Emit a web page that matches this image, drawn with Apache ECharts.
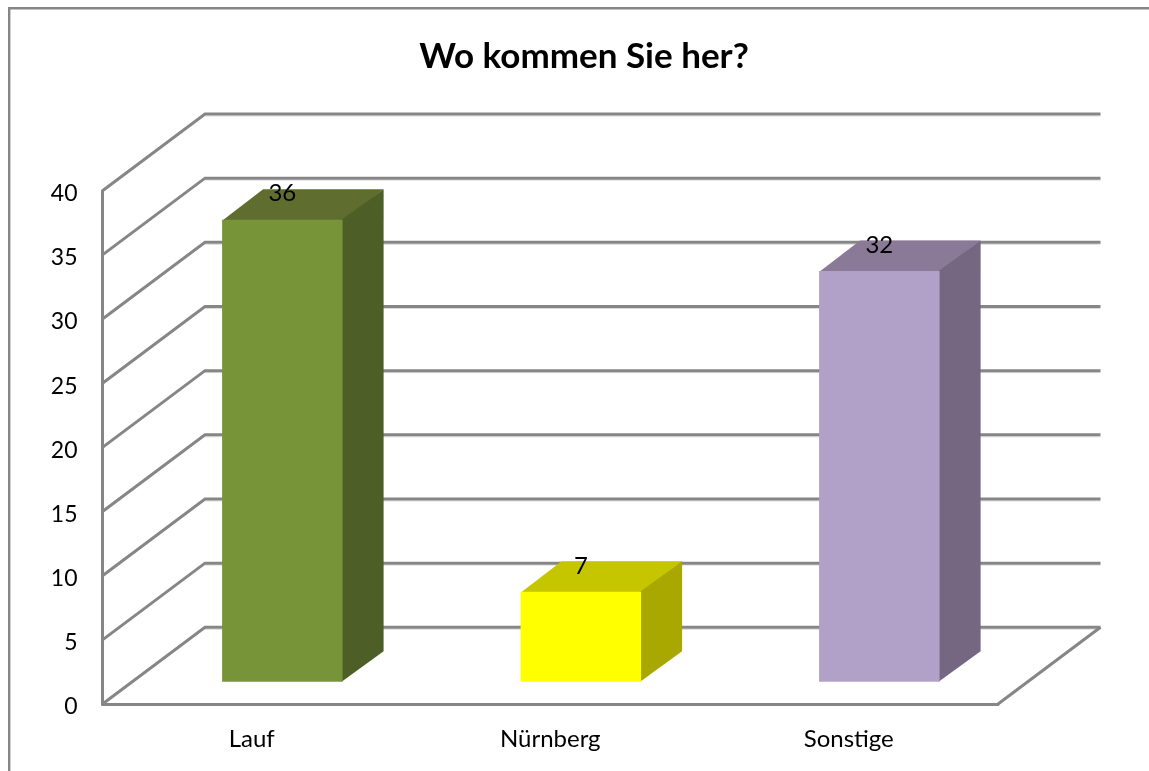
<!DOCTYPE html>
<html>
<head>
<meta charset="utf-8">
<script src="https://cdn.jsdelivr.net/npm/echarts@6/dist/echarts.min.js"></script>
<style>
  html, body { margin: 0; padding: 0; background: #fff; }
  #chart { width: 1149px; height: 771px; }
</style>
</head>
<body>
<div id="chart"></div>
<script>
var categories = ['Lauf', 'Nürnberg', 'Sonstige']
var values = [36, 7, 32]
var yTicks = [0, 5, 10, 15, 20, 25, 30, 35, 40]

var frontColors = ['#779439', '#ffff00', '#b1a0c7']
var topColors = ['#5f6e2e', '#c6c600', '#8a7a97']
var sideColors = ['#4d5e26', '#a8a800', '#756782']

var lineColor = '#868686'
var textFont = 'Lato'
// depth of the back wall, and where the bars stand inside that depth
var wallDx = 102.5
var wallDy = -76.7
var barDx = 30.6
var barDy = -22.3
var barDepthDx = 41
var barDepthDy = -30.5
var barWidth = 120.5

var myChart = echarts.init(document.getElementById('chart'))

function renderWall(params, api) {
  var grid = params.coordSys
  var y = api.coord([0, api.value(0)])[1]
  var x0 = grid.x
  var x1 = grid.x + wallDx
  var x2 = grid.x + grid.width + wallDx
  return {
    type: 'group',
    children: [
      {
        type: 'polyline',
        shape: { points: [[x1, y + wallDy + 2], [x2, y + wallDy + 2]] },
        style: { stroke: '#dcdcdc', lineWidth: 1, fill: 'none' }
      },
      {
        type: 'polyline',
        shape: { points: [[x0, y], [x1, y + wallDy], [x2, y + wallDy]] },
        style: { stroke: lineColor, lineWidth: 3, fill: 'none' }
      }
    ]
  }
}

function renderFloor(params, api) {
  var grid = params.coordSys
  var y = api.coord([0, 0])[1]
  var x = grid.x + grid.width
  return {
    type: 'line',
    shape: { x1: x, y1: y, x2: x + wallDx, y2: y + wallDy },
    style: { stroke: lineColor, lineWidth: 3 }
  }
}

function renderBar(params, api) {
  var i = api.value(0)
  var base = api.coord([i, 0])
  var head = api.coord([i, api.value(1)])
  var l = base[0] + barDx - barWidth / 2
  var r = l + barWidth
  var b = base[1] + barDy
  var t = head[1] + barDy
  var dx = barDepthDx
  var dy = barDepthDy
  return {
    type: 'group',
    children: [
      {
        type: 'polygon',
        shape: { points: [[l, t + 1], [l + dx, t + dy], [r + dx, t + dy], [r, t + 1]] },
        style: { fill: topColors[i] }
      },
      {
        type: 'polygon',
        // starts 1px under the front face so no seam shows through
        shape: { points: [[r - 1, t], [r + dx, t + dy], [r + dx, b + dy], [r - 1, b]] },
        style: { fill: sideColors[i] }
      },
      {
        type: 'rect',
        shape: { x: l, y: t, width: barWidth, height: b - t },
        style: { fill: frontColors[i] }
      },
      {
        type: 'text',
        style: {
          text: String(api.value(1)),
          x: l + barWidth / 2,
          y: t - 26,
          align: 'center',
          verticalAlign: 'middle',
          fill: '#000',
          font: '24px ' + textFont
        }
      }
    ]
  }
}

var option = {
  backgroundColor: '#fff',
  animation: false,
  title: {
    text: 'Wo kommen Sie her?',
    left: 579,
    top: 34,
    textAlign: 'center',
    textStyle: { fontFamily: textFont, fontWeight: 'bold', fontSize: 35, color: '#000' }
  },
  graphic: [
    {
      type: 'polyline',
      shape: { points: [[9.2, 771], [9.2, 8.2], [1149, 8.2]] },
      style: { stroke: lineColor, lineWidth: 2.4, fill: 'none' }
    }
  ],
  grid: { left: 102.5, top: 190.7, width: 895.5, height: 513.3 },
  xAxis: {
    type: 'category',
    data: categories,
    axisLine: { lineStyle: { color: lineColor, width: 3 } },
    axisTick: { show: false },
    axisLabel: { color: '#000', fontFamily: textFont, fontSize: 24, margin: 23 }
  },
  yAxis: {
    type: 'value',
    min: 0,
    max: 40,
    interval: 5,
    axisLine: { show: true, lineStyle: { color: lineColor, width: 3 } },
    axisTick: { show: false },
    splitLine: { show: false },
    axisLabel: {
      color: '#000',
      fontFamily: textFont,
      fontSize: 23,
      margin: 25,
      // the numbers sit about 3px under their tick in the original
      verticalAlign: 'top',
      lineHeight: 6
    }
  },
  series: [
    {
      type: 'custom',
      name: 'wall',
      z: 1,
      silent: true,
      clip: false,
      renderItem: renderWall,
      encode: { y: 0 },
      data: yTicks.map(function(t) { return [t] })
    },
    {
      type: 'custom',
      name: 'floor',
      z: 1,
      silent: true,
      clip: false,
      renderItem: renderFloor,
      data: [[0]]
    },
    {
      type: 'custom',
      name: 'bars',
      z: 3,
      clip: false,
      renderItem: renderBar,
      encode: { x: 0, y: 1 },
      data: values.map(function(v, i) { return [i, v] })
    }
  ]
}
myChart.setOption(option)
window.onresize = function() {
  myChart.resize()
}
</script>
</body>
</html>
